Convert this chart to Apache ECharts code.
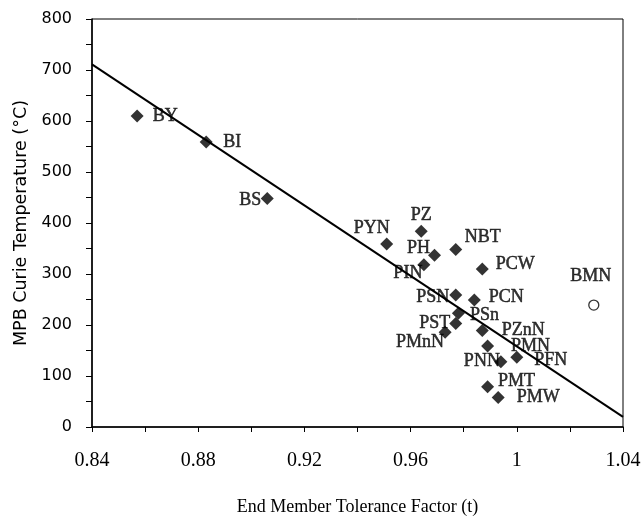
<!DOCTYPE html>
<html>
<head>
<meta charset="utf-8">
<script src="https://cdn.jsdelivr.net/npm/echarts@6/dist/echarts.min.js"></script>
<style>
  html, body { margin: 0; padding: 0; background: #fff; }
  #chart { width: 642px; height: 517px; }
</style>
</head>
<body>
<div id="chart"></div>
<script>
// compounds, tolerance factor and MPB Curie temperature
var names = ['BY', 'BI', 'BS', 'PYN', 'PZ', 'PH', 'PIN', 'NBT', 'PCW', 'PSN', 'PCN',
  'PSn', 'PST', 'PMnN', 'PZnN', 'PMN', 'PFN', 'PNN', 'PMT', 'PMW'];
var tolerance = [0.857, 0.883, 0.906, 0.951, 0.964, 0.969, 0.965, 0.977, 0.987, 0.977, 0.984,
  0.978, 0.977, 0.973, 0.987, 0.989, 1.000, 0.994, 0.989, 0.993];
var curieTemp = [610, 559, 448, 359, 384, 337, 318, 348, 310, 259, 249,
  223, 203, 186, 189, 159, 137, 128, 79, 58];

// open-circle outlier
var outlierName = ['BMN'];
var outlierT = [1.029];
var outlierTc = [239];

// fitted trend line end points
var fitT = [0.84, 1.04];
var fitTc = [711, 20];

var xTicks = [0.84, 0.88, 0.92, 0.96, 1.00, 1.04];

// label offsets from marker centre (layout only)
var labelShift = {
  BY: [28, 0], BI: [26, 0], BS: [-17, 2], PYN: [-15, -16], PZ: [0, -16],
  PH: [-16, -7], PIN: [-16, 8], NBT: [27, -12], PCW: [33, -5], PSN: [-23, 2],
  PCN: [32, -3], PSn: [26, 2], PST: [-21, 0], PMnN: [-25, 10], PZnN: [41, 0],
  PMN: [43, 0], PFN: [34, 3], PNN: [-19, 0], PMT: [29, -5], PMW: [40, 0],
  BMN: [-3, -29]
};

var serif = '"Liberation Serif", "Times New Roman", serif';
var sans = '"DejaVu Sans", sans-serif';

function labelFor(n) {
  return {
    show: true,
    position: 'inside',
    align: 'center',
    verticalAlign: 'middle',
    offset: labelShift[n],
    formatter: n,
    color: '#000',
    fontFamily: serif,
    fontSize: 18,
    textBorderColor: '#000',
    textBorderWidth: 0.5
  };
}

var mainData = names.map(function (n, i) {
  return { name: n, value: [tolerance[i], curieTemp[i]], label: labelFor(n) };
});
var outlierData = outlierName.map(function (n, i) {
  return { name: n, value: [outlierT[i], outlierTc[i]], label: labelFor(n) };
});
var fitData = fitT.map(function (t, i) { return [t, fitTc[i]]; });

var chart = echarts.init(document.getElementById('chart'));
var option = {
  animation: false,
  backgroundColor: '#fff',
  grid: {
    left: 92, right: 19, top: 19, bottom: 90,
    outerBoundsMode: 'none',
    containLabel: false,
    show: true, borderColor: '#000', borderWidth: 1
  },
  xAxis: {
    type: 'value',
    min: 0.84, max: 1.04, interval: 0.04,
    name: 'End Member Tolerance Factor (t)',
    nameLocation: 'middle',
    nameGap: 71,
    nameTextStyle: { fontFamily: serif, fontSize: 18, color: '#000' },
    axisLine: { lineStyle: { color: '#000', width: 1.5 } },
    axisTick: { show: true, length: 5, lineStyle: { color: '#000' } },
    minorTick: { show: true, splitNumber: 2, length: 5, lineStyle: { color: '#000' } },
    splitLine: { show: false },
    axisLabel: {
      margin: 24, color: '#000', fontFamily: serif, fontSize: 20,
      formatter: function (v) {
        var hit = xTicks.filter(function (t) { return Math.abs(t - v) < 1e-6; });
        return hit.length ? String(+hit[0].toFixed(2)) : '';
      }
    }
  },
  yAxis: {
    type: 'value',
    min: 0, max: 800, interval: 100,
    name: 'MPB Curie Temperature (°C)',
    nameLocation: 'middle',
    nameGap: 61,
    nameTextStyle: { fontFamily: sans, fontSize: 17.5, color: '#000' },
    axisLine: { show: true, lineStyle: { color: '#000', width: 1.5 } },
    axisTick: { show: true, length: 6, lineStyle: { color: '#000' } },
    minorTick: { show: true, splitNumber: 2, length: 6, lineStyle: { color: '#000' } },
    splitLine: { show: false },
    axisLabel: { margin: 20, color: '#000', fontFamily: sans, fontSize: 16 }
  },
  series: [
    {
      type: 'line',
      data: fitData,
      symbol: 'none',
      lineStyle: { color: '#000', width: 2 },
      silent: true,
      z: 1
    },
    {
      type: 'scatter',
      data: mainData,
      symbol: 'diamond',
      symbolSize: 13,
      itemStyle: { color: '#000' },
      z: 3
    },
    {
      type: 'scatter',
      data: outlierData,
      symbol: 'circle',
      symbolSize: 10,
      itemStyle: { color: '#fff', borderColor: '#000', borderWidth: 1.3 },
      z: 3
    }
  ]
};
chart.setOption(option);
</script>
</body>
</html>
